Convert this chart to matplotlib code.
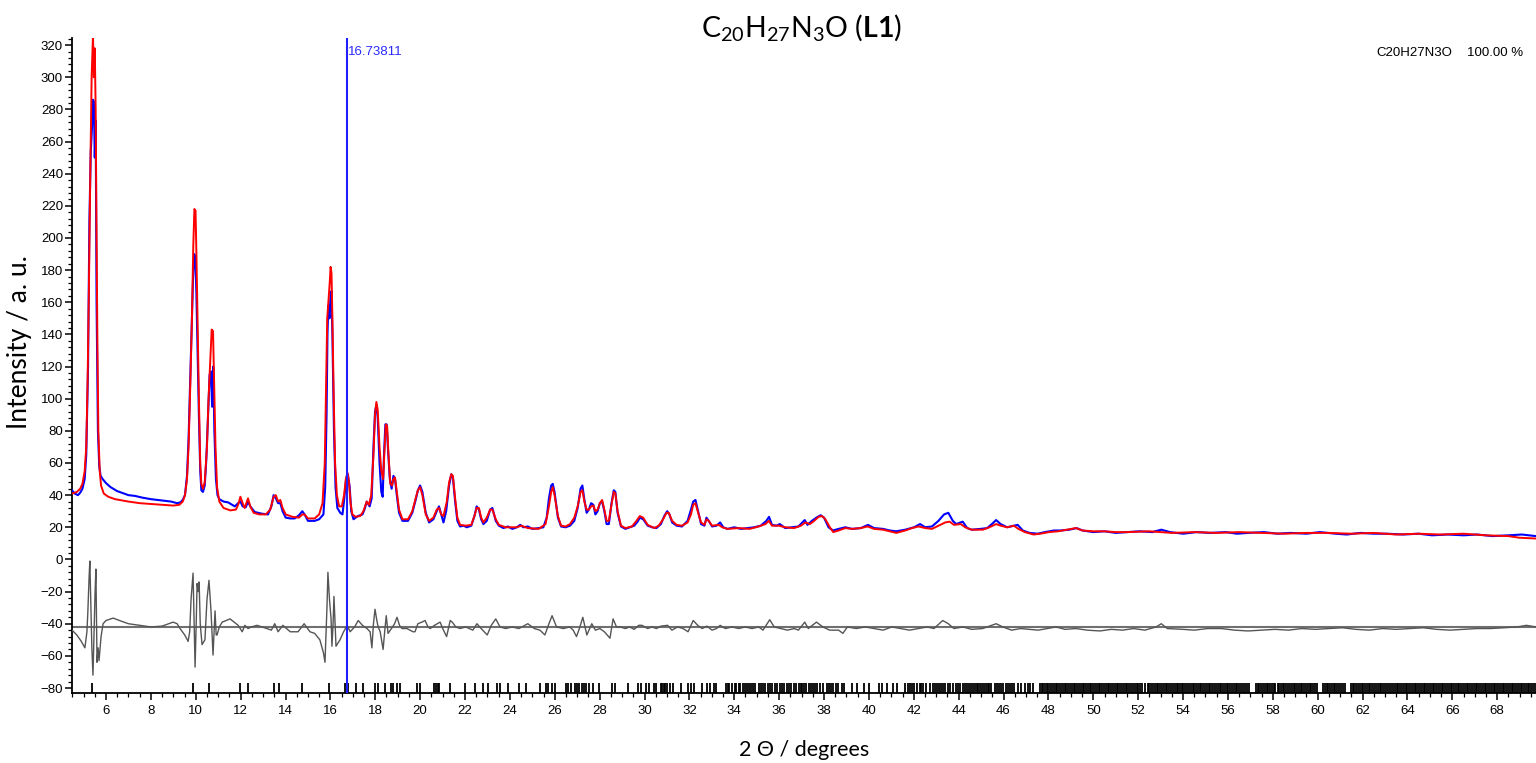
import numpy as np
import matplotlib
matplotlib.use("Agg")
import matplotlib.pyplot as plt
from matplotlib.ticker import MultipleLocator

plt.rcParams['font.family'] = ['Liberation Sans', 'DejaVu Sans']
plt.rcParams['mathtext.fontset'] = 'custom'
plt.rcParams['mathtext.rm'] = 'Lato'
plt.rcParams['mathtext.bf'] = 'Lato:bold'

# calculated pattern (red), 2theta / intensity
calc_pts = [
    (4.49, 41), (4.7, 42), (4.85, 44), (4.95, 47), (5.05, 55), (5.12, 70), (5.18, 110), (5.24, 170),
    (5.3, 240), (5.36, 300), (5.42, 326), (5.46, 300), (5.5, 318), (5.54, 280), (5.58, 200), (5.62, 130),
    (5.66, 80), (5.72, 55), (5.78, 46), (5.9, 41), (6.1, 39), (6.4, 37.5), (7.0, 36), (7.5, 35),
    (8.0, 34.5), (8.5, 34), (9.0, 33.5), (9.27, 34), (9.42, 36), (9.52, 40), (9.61, 50), (9.68, 70),
    (9.76, 110), (9.83, 150), (9.89, 195), (9.94, 218), (9.99, 217), (10.03, 190), (10.08, 150), (10.14, 100),
    (10.2, 60), (10.25, 47), (10.32, 44), (10.4, 48), (10.5, 70), (10.57, 100), (10.65, 125), (10.71, 143),
    (10.77, 142), (10.82, 110), (10.88, 70), (10.95, 45), (11.05, 36), (11.24, 32), (11.54, 30.5), (11.79, 31),
    (11.89, 34), (11.99, 39), (12.09, 35), (12.18, 32), (12.33, 38), (12.43, 33), (12.58, 29), (12.83, 28),
    (13.12, 28), (13.32, 31), (13.47, 39), (13.57, 40), (13.67, 36), (13.77, 37), (13.87, 32), (14.01, 28),
    (14.31, 26.5), (14.6, 26), (14.75, 28), (14.85, 28), (15.0, 25.5), (15.3, 25.5), (15.5, 28), (15.65, 35),
    (15.75, 60), (15.81, 110), (15.86, 150), (15.91, 160), (15.97, 172), (16.01, 182), (16.05, 178), (16.09, 150),
    (16.15, 100), (16.21, 60), (16.29, 40), (16.39, 33), (16.51, 33), (16.61, 40), (16.69, 50), (16.76, 54),
    (16.83, 48), (16.9, 35), (16.98, 28), (17.13, 26.5), (17.33, 27), (17.47, 30), (17.62, 36), (17.72, 34),
    (17.82, 40), (17.92, 65), (17.99, 90), (18.05, 98), (18.11, 93), (18.19, 70), (18.27, 55), (18.35, 50),
    (18.42, 70), (18.47, 84), (18.53, 83), (18.59, 65), (18.67, 47), (18.75, 46), (18.81, 50), (18.88, 51),
    (18.96, 42), (19.06, 31), (19.21, 25), (19.46, 25), (19.65, 30), (19.8, 38), (19.9, 43), (20.0, 45),
    (20.1, 40), (20.25, 28), (20.4, 24), (20.59, 26), (20.74, 31), (20.84, 32), (20.94, 28), (21.04, 27),
    (21.19, 36), (21.29, 48), (21.39, 53), (21.46, 52), (21.56, 38), (21.66, 26), (21.78, 21.5), (22.03, 21),
    (22.28, 21.5), (22.42, 27), (22.52, 32), (22.62, 32), (22.72, 26), (22.82, 23), (22.97, 26), (23.12, 31),
    (23.22, 31), (23.37, 25), (23.51, 21.5), (23.81, 20), (24.31, 20), (24.5, 21), (24.8, 19.5), (25.29, 19),
    (25.59, 22), (25.74, 33), (25.84, 42), (25.91, 45), (25.99, 40), (26.14, 27), (26.28, 21), (26.48, 20.5),
    (26.68, 22), (26.87, 26), (27.02, 33), (27.15, 42), (27.23, 43), (27.32, 36), (27.42, 31), (27.52, 31),
    (27.62, 33), (27.72, 33.5), (27.81, 30), (27.91, 31), (28.01, 35), (28.11, 37), (28.21, 31), (28.31, 24),
    (28.41, 24), (28.54, 35), (28.63, 42), (28.7, 41), (28.8, 30), (28.95, 21), (29.15, 19.5), (29.44, 20.5),
    (29.64, 24), (29.79, 27), (29.94, 26), (30.14, 21.5), (30.44, 19.5), (30.63, 21), (30.83, 25), (30.98, 29),
    (31.08, 29), (31.23, 24), (31.43, 21.5), (31.67, 21), (31.92, 23), (32.07, 28), (32.17, 34), (32.27, 35),
    (32.37, 30), (32.52, 23), (32.67, 21.5), (32.76, 25), (32.86, 24), (33.01, 21), (33.31, 21.5), (33.46, 20),
    (33.7, 19), (34.2, 19.5), (34.69, 19), (35.09, 20.5), (35.39, 22), (35.54, 24), (35.68, 21), (35.98, 21),
    (36.28, 20), (36.67, 19.5), (36.97, 21), (37.17, 23), (37.37, 22), (37.56, 24), (37.76, 26.5), (37.91, 27),
    (38.06, 25), (38.26, 20), (38.41, 17), (38.65, 18), (38.95, 19.5), (39.25, 19), (39.64, 19.5), (39.94, 20.5),
    (40.23, 19), (40.63, 18.5), (40.93, 17.5), (41.22, 16.5), (41.62, 18), (41.92, 19.5), (42.21, 20.5), (42.51, 19.5),
    (42.81, 19), (43.1, 21), (43.4, 23), (43.6, 23.5), (43.79, 21.5), (44.09, 22), (44.29, 20), (44.58, 18.5),
    (45.08, 18.5), (45.37, 20), (45.67, 22), (45.87, 21), (46.16, 20), (46.46, 21), (46.66, 19), (46.95, 17),
    (47.34, 15.5), (47.64, 16), (48.03, 17), (48.43, 17.5), (48.83, 18.5), (49.22, 19.5), (49.52, 18), (50.0, 17.5),
    (50.5, 17.5), (51.0, 17), (51.5, 17), (52.5, 17.5), (53.0, 17), (53.5, 16.5), (54.5, 17), (55.5, 16.5),
    (56.5, 17), (57.5, 16.5), (58.5, 16), (59.5, 16.5), (60.5, 16.5), (61.5, 16), (62.5, 16.5), (63.5, 15.5),
    (64.5, 16), (65.5, 15.5), (66.5, 16), (67.5, 15), (68.5, 14.5), (69.0, 13.5), (69.73, 13),
]

# observed pattern (blue)
obs_pts = [
    (4.49, 43), (4.6, 41), (4.75, 40), (4.85, 41.5), (4.95, 44), (5.05, 50), (5.12, 65), (5.2, 120),
    (5.26, 210), (5.32, 253), (5.38, 270), (5.42, 286), (5.46, 285), (5.5, 250), (5.54, 273), (5.58, 160),
    (5.64, 80), (5.7, 58), (5.76, 52), (5.85, 50), (6.0, 47.5), (6.2, 45), (6.5, 42.5), (6.8, 41),
    (7.0, 40), (7.3, 39.5), (7.6, 38.5), (8.0, 37.5), (8.3, 37), (8.6, 36.5), (8.9, 36), (9.17, 35),
    (9.32, 35.5), (9.42, 37), (9.52, 40), (9.61, 52), (9.68, 75), (9.76, 115), (9.83, 150), (9.88, 175),
    (9.93, 190), (9.98, 188), (10.03, 165), (10.08, 130), (10.14, 90), (10.2, 55), (10.25, 43), (10.32, 42),
    (10.4, 46), (10.47, 62), (10.55, 90), (10.62, 115), (10.68, 117), (10.73, 95), (10.78, 120), (10.83, 80),
    (10.9, 50), (10.97, 40), (11.05, 37.5), (11.24, 36), (11.44, 35.5), (11.74, 33), (11.89, 35), (11.99, 36),
    (12.09, 33), (12.23, 32.5), (12.33, 36), (12.43, 33), (12.63, 29.5), (12.93, 28.5), (13.22, 28), (13.37, 33),
    (13.47, 40), (13.57, 38), (13.67, 35), (13.77, 35), (13.87, 30), (14.01, 26), (14.21, 25.5), (14.41, 25.5),
    (14.6, 27.5), (14.75, 30), (14.85, 28), (15.0, 24), (15.3, 24), (15.5, 25), (15.69, 28), (15.77, 45),
    (15.83, 90), (15.87, 140), (15.91, 158), (15.96, 150), (16.01, 165), (16.05, 167), (16.09, 140), (16.16, 80),
    (16.23, 45), (16.31, 32), (16.44, 29), (16.54, 28), (16.62, 38), (16.7, 50), (16.78, 53), (16.86, 45),
    (16.93, 30), (17.03, 25), (17.23, 27), (17.43, 28), (17.52, 31), (17.62, 36), (17.75, 33), (17.84, 38),
    (17.92, 70), (17.99, 92), (18.05, 96), (18.11, 88), (18.19, 60), (18.27, 42), (18.33, 39), (18.39, 65),
    (18.45, 84), (18.51, 84), (18.57, 68), (18.65, 50), (18.73, 44), (18.81, 52), (18.88, 50), (18.96, 40),
    (19.06, 29), (19.21, 24), (19.46, 24), (19.65, 29), (19.8, 37), (19.9, 43), (20.0, 46), (20.1, 42),
    (20.25, 29), (20.4, 23), (20.59, 25), (20.74, 30), (20.84, 33), (20.94, 28), (21.04, 23), (21.16, 30),
    (21.29, 46), (21.39, 53), (21.46, 51), (21.56, 36), (21.66, 24), (21.78, 20.5), (21.93, 21), (22.08, 20),
    (22.28, 21), (22.42, 27), (22.52, 33), (22.62, 31), (22.72, 25), (22.82, 22), (22.97, 24), (23.12, 31),
    (23.22, 32), (23.37, 24), (23.51, 21), (23.71, 19.5), (23.91, 20.5), (24.11, 19), (24.31, 20), (24.46, 21.5),
    (24.6, 20), (24.8, 20.5), (25.0, 19), (25.29, 19.5), (25.49, 20), (25.64, 26), (25.74, 38), (25.84, 46),
    (25.91, 47), (25.99, 42), (26.14, 26), (26.28, 20.5), (26.48, 20), (26.68, 21), (26.87, 24), (27.02, 32),
    (27.15, 44), (27.23, 46), (27.32, 37), (27.42, 29), (27.52, 31), (27.62, 35), (27.72, 34), (27.81, 28),
    (27.91, 30), (28.01, 35), (28.11, 36), (28.21, 30), (28.31, 22), (28.41, 22), (28.54, 36), (28.63, 43),
    (28.7, 42), (28.8, 29), (28.95, 20.5), (29.15, 19), (29.35, 20), (29.54, 21), (29.69, 23.5), (29.79, 26),
    (29.94, 25), (30.14, 21), (30.34, 20), (30.53, 19.5), (30.73, 22), (30.88, 27), (31.01, 30), (31.11, 28),
    (31.23, 23), (31.43, 21), (31.67, 20.5), (31.92, 24), (32.07, 31), (32.17, 36), (32.27, 37), (32.37, 31),
    (32.52, 22), (32.67, 21), (32.76, 26), (32.86, 24), (33.01, 20.5), (33.21, 21), (33.37, 23), (33.51, 20),
    (33.7, 19), (34.0, 20), (34.3, 19), (34.59, 19.5), (34.89, 20), (35.18, 21), (35.43, 24), (35.55, 26.5),
    (35.68, 21.5), (35.88, 21), (36.03, 22), (36.27, 19.5), (36.57, 20), (36.86, 20.5), (37.14, 24.5), (37.26, 21.5),
    (37.46, 24), (37.66, 26), (37.85, 27.5), (38.0, 26), (38.2, 20), (38.4, 18), (38.65, 19), (38.95, 20),
    (39.25, 19), (39.64, 19.5), (39.96, 21.5), (40.23, 19.5), (40.63, 19), (40.93, 18), (41.22, 17.5), (41.62, 18.5),
    (42.01, 20), (42.28, 22), (42.51, 20), (42.81, 20.5), (43.1, 24), (43.35, 28), (43.54, 29), (43.74, 24),
    (43.89, 22), (44.18, 23.5), (44.38, 19.5), (44.58, 18.5), (44.98, 19), (45.27, 19.5), (45.52, 22.5), (45.67, 24.5),
    (45.87, 22), (46.16, 20), (46.46, 21), (46.63, 21.5), (46.86, 18), (47.16, 16.5), (47.52, 16), (47.85, 17),
    (48.24, 18), (48.53, 18), (48.93, 18.5), (49.26, 19.5), (49.52, 18), (50.0, 17), (50.5, 17.5), (51.0, 16.5),
    (51.5, 17), (52.05, 17.5), (52.63, 17), (53.03, 18.5), (53.42, 17), (54.0, 16), (54.6, 17), (55.2, 16.5),
    (55.9, 17), (56.4, 16), (56.9, 16.5), (57.6, 17), (58.2, 16), (58.8, 16.5), (59.5, 16), (60.1, 17),
    (60.8, 16), (61.3, 15.5), (61.9, 16.5), (62.5, 16), (63.1, 16), (63.8, 15.5), (64.5, 16), (65.1, 15),
    (65.8, 15.5), (66.5, 15), (67.1, 15.5), (67.8, 14.5), (68.5, 15), (69.1, 15.5), (69.73, 14.5),
]

# difference curve (grey), already offset
diff_pts = [
    (4.49, -44), (4.7, -47), (4.9, -51), (5.06, -55), (5.15, -45), (5.19, -33), (5.25, -10), (5.28, -1),
    (5.33, -30), (5.37, -55), (5.42, -72), (5.47, -45), (5.51, -22), (5.55, -6), (5.6, -64), (5.65, -55),
    (5.69, -63), (5.78, -48), (5.87, -40), (6.0, -38), (6.32, -36.5), (6.6, -38), (7.0, -40), (7.5, -41),
    (8.0, -42), (8.5, -41.5), (8.99, -39), (9.17, -40), (9.3, -43), (9.51, -47), (9.66, -51), (9.73, -45),
    (9.79, -25), (9.88, -8.5), (9.93, -40), (9.97, -67), (10.02, -40), (10.06, -15), (10.11, -20), (10.15, -14),
    (10.2, -40), (10.28, -53), (10.41, -50), (10.5, -25), (10.59, -13), (10.68, -32), (10.77, -59.5), (10.82, -45),
    (10.86, -32), (10.91, -47), (10.95, -47), (11.05, -42), (11.18, -39), (11.53, -37), (11.89, -41), (12.07, -45),
    (12.19, -41), (12.33, -43), (12.48, -42), (12.73, -41), (13.17, -43), (13.37, -44), (13.52, -40), (13.67, -45),
    (13.88, -41), (14.21, -45), (14.56, -45), (14.83, -40), (15.09, -45), (15.3, -46), (15.53, -50), (15.69, -58),
    (15.76, -64), (15.81, -45), (15.85, -29), (15.89, -8), (15.96, -25), (16.03, -37), (16.07, -54), (16.12, -40),
    (16.16, -23), (16.21, -40), (16.25, -54), (16.34, -52), (16.43, -50), (16.59, -45), (16.75, -41), (16.88, -45),
    (17.08, -42), (17.24, -38), (17.43, -41), (17.63, -43), (17.77, -45), (17.85, -55), (17.92, -40), (17.99, -31),
    (18.07, -38), (18.13, -42), (18.22, -45), (18.35, -56), (18.42, -45), (18.49, -35), (18.57, -46), (18.67, -44),
    (18.77, -42), (18.86, -40), (18.97, -36), (19.08, -41), (19.19, -43), (19.41, -43), (19.68, -45), (19.77, -45),
    (19.9, -40), (20.08, -39), (20.22, -38), (20.35, -42), (20.45, -43), (20.64, -41), (20.89, -39), (21.04, -44),
    (21.18, -48), (21.34, -38), (21.43, -39), (21.59, -42), (21.78, -43), (22.03, -42), (22.35, -44), (22.53, -40),
    (22.72, -43), (22.99, -47), (23.17, -41), (23.37, -37), (23.56, -42), (23.81, -43), (24.1, -42), (24.4, -43),
    (24.8, -40), (25.09, -43), (25.34, -44), (25.56, -47), (25.74, -40), (25.88, -35), (26.08, -42), (26.38, -43),
    (26.67, -42), (26.82, -44), (26.97, -48), (27.12, -42), (27.25, -36), (27.43, -47), (27.65, -40), (27.81, -44),
    (28.01, -43), (28.21, -45), (28.46, -49), (28.6, -37), (28.75, -42), (28.91, -42), (29.15, -43), (29.34, -42),
    (29.54, -43.5), (29.74, -41), (29.89, -41), (30.14, -43), (30.33, -42), (30.53, -43), (30.73, -41.5), (31.03, -41),
    (31.22, -44), (31.47, -42), (31.72, -43), (31.94, -45), (32.17, -38), (32.37, -41), (32.57, -43), (32.78, -41.5),
    (33.01, -44), (33.21, -43), (33.37, -41), (33.6, -43), (33.9, -42), (34.2, -43), (34.49, -42), (34.79, -43),
    (35.09, -42), (35.28, -44), (35.58, -37.5), (35.78, -42), (36.07, -43), (36.37, -44), (36.67, -43), (36.86, -44),
    (37.14, -39), (37.3, -43), (37.66, -39), (37.95, -42), (38.25, -44), (38.65, -44), (38.84, -46), (39.04, -42),
    (39.44, -43), (39.83, -42), (40.23, -43), (40.63, -44), (41.02, -42), (41.42, -43), (41.81, -44), (42.21, -43),
    (42.6, -42), (42.9, -43), (43.29, -38), (43.54, -40), (43.79, -43), (44.19, -42), (44.58, -43.5), (45.07, -43),
    (45.67, -40), (45.97, -42), (46.36, -44), (46.76, -43), (47.16, -43.5), (47.55, -44), (47.95, -43), (48.34, -42),
    (48.74, -43.5), (49.23, -43), (49.72, -44), (50.3, -44.5), (50.8, -43.5), (51.3, -44), (51.8, -43), (52.3, -44),
    (52.8, -42), (53.03, -40), (53.3, -43), (54.0, -43.5), (54.5, -44), (55.1, -43), (55.7, -43), (56.3, -44),
    (56.9, -44.5), (57.5, -44), (58.1, -43.5), (58.7, -44), (59.3, -43), (59.9, -43.5), (60.5, -43), (61.1, -42.5),
    (61.7, -43.5), (62.3, -44), (62.9, -43), (63.5, -43.5), (64.1, -43), (64.7, -42.5), (65.3, -43.5), (65.9, -44),
    (66.5, -43.5), (67.1, -43), (67.7, -43), (68.3, -42.5), (68.9, -42), (69.3, -41), (69.73, -42),
]
diff_zero = -42

# Bragg reflection positions
refl_pos = [
    5.36, 9.89, 10.6, 11.98, 12.34, 13.49, 13.73, 14.73, 15.95, 16.65, 16.8, 17.14, 17.46, 17.99, 18.14,
    18.44, 18.7, 18.78, 18.98, 19.1, 19.88, 20.0, 20.63, 20.7, 20.8, 20.85, 21.31, 22.0, 22.45, 22.81,
    23.04, 23.44, 23.56, 23.93, 24.42, 24.74, 25.33, 25.63, 25.71, 25.86, 26.0, 26.51, 26.59, 26.74, 26.88,
    26.98, 27.1, 27.2, 27.3, 27.39, 27.54, 27.69, 27.99, 28.57, 28.7, 29.25, 29.7, 29.85, 30.07, 30.22,
    30.44, 30.52, 30.73, 30.8, 30.85, 30.92, 31.0, 31.14, 31.29, 31.61, 31.96, 32.06, 32.2, 32.58, 32.8,
    32.94, 33.09, 33.17,
    33.61, 33.7, 33.77, 33.9, 34.02, 34.09, 34.19, 34.26, 34.38, 34.48, 34.55, 34.65, 34.73, 34.82, 34.93,
    35.08, 35.21, 35.29, 35.36, 35.51, 35.61, 35.68, 35.8, 35.9, 36.04, 36.14, 36.21, 36.33, 36.43, 36.54,
    36.67, 36.75, 36.87, 36.97, 37.04, 37.11, 37.21, 37.34, 37.41, 37.5, 37.6, 37.7, 37.8, 37.94,
    38.13, 38.21, 38.31, 38.42, 38.52, 38.62, 38.79, 38.91,
    39.24, 39.47, 39.76, 39.99, 40.43, 40.58, 40.79, 41.09, 41.24,
    41.6, 41.75, 41.85, 41.94, 42.02, 42.14, 42.26, 42.34, 42.43, 42.55,
    42.73, 42.85, 42.93, 43.02, 43.14, 43.22, 43.31, 43.41, 43.53, 43.63, 43.76, 43.86, 43.95, 44.06,
    44.19, 44.29, 44.38, 44.46, 44.53, 44.63, 44.73, 44.8, 44.88, 44.97, 45.05, 45.12, 45.22, 45.29, 45.37, 45.46,
    45.62, 45.71, 45.8, 45.9, 45.97, 46.09, 46.19, 46.29, 46.38, 46.48, 46.63, 46.78, 46.97, 47.1, 47.2, 47.31,
    47.62, 47.7, 47.77, 47.86, 47.93, 48.0, 48.09, 48.16, 48.24, 48.33, 48.4, 48.48, 48.57, 48.64, 48.72, 48.8, 48.88, 48.97,
    49.04, 49.12, 49.2, 49.29, 49.36, 49.44, 49.53, 49.6, 49.68, 49.77, 49.84, 49.92,
    50.0, 50.08, 50.17, 50.24, 50.32, 50.41, 50.48, 50.56, 50.65, 50.72, 50.8, 50.89, 50.96,
    51.04, 51.12, 51.21, 51.28, 51.36, 51.45, 51.52, 51.6, 51.69, 51.76, 51.84, 51.93, 52.0, 52.08, 52.16,
    52.3, 52.42, 52.5, 52.58, 52.66, 52.74, 52.83, 52.9, 52.98,
    53.06, 53.14, 53.23, 53.3, 53.38, 53.47, 53.54, 53.62, 53.71, 53.78, 53.86, 53.95,
    54.02, 54.1, 54.19, 54.26, 54.34, 54.43, 54.5, 54.58, 54.67, 54.74, 54.82, 54.91, 54.98,
    55.06, 55.15, 55.22, 55.3, 55.39, 55.46, 55.54, 55.63, 55.7, 55.78, 55.87, 55.94,
    56.02, 56.11, 56.18, 56.26, 56.35, 56.42, 56.5, 56.59, 56.66, 56.74, 56.83, 56.92,
    57.25, 57.32, 57.4, 57.49, 57.56, 57.64, 57.73, 57.8, 57.88, 57.97,
    58.04, 58.12, 58.21, 58.28, 58.36, 58.45, 58.52, 58.6, 58.69, 58.76, 58.84, 58.93,
    59.0, 59.08, 59.17, 59.24, 59.32, 59.41, 59.48, 59.56, 59.65, 59.72, 59.8, 59.89, 59.97,
    60.24, 60.31, 60.4, 60.47, 60.55, 60.64, 60.71, 60.79, 60.88, 60.95, 61.03, 61.12, 61.2,
    61.48, 61.56, 61.63, 61.72, 61.8, 61.87, 61.96,
    62.04, 62.11, 62.2, 62.28, 62.35, 62.44, 62.52, 62.59, 62.68, 62.76, 62.83, 62.92, 63.0, 63.08,
    63.2, 63.28, 63.36, 63.44, 63.52, 63.6, 63.68, 63.76, 63.84, 63.92,
    64.0, 64.08, 64.16, 64.24, 64.32, 64.4, 64.48, 64.56, 64.64, 64.72, 64.8, 64.88, 64.96,
    65.04, 65.12, 65.2, 65.28, 65.36, 65.44, 65.52, 65.6, 65.68, 65.76, 65.84, 65.92,
    66.0, 66.08, 66.16, 66.24, 66.32, 66.4, 66.48, 66.56, 66.64, 66.72, 66.8, 66.88, 66.96,
    67.04, 67.12, 67.2, 67.28, 67.36, 67.44, 67.52, 67.6, 67.68, 67.76, 67.84, 67.92,
    68.0, 68.08, 68.16, 68.24, 68.32, 68.4, 68.48, 68.56, 68.64, 68.72, 68.8, 68.88, 68.96,
    69.04, 69.12, 69.2, 69.28, 69.36, 69.44, 69.52, 69.6, 69.68,
]

cursor_pos = 16.73811
phase_name = "C20H27N3O"
phase_frac = "100.00 %"

XMIN, XMAX = 4.485, 69.73
YMIN, YMAX = -83.1, 324.4

fig = plt.figure(figsize=(15.36, 7.63), dpi=100)
ax = fig.add_axes([72 / 1536, 70 / 763, 1464 / 1536, 655 / 763])

x_obs, y_obs = np.array(obs_pts).T
x_calc, y_calc = np.array(calc_pts).T
x_diff, y_diff = np.array(diff_pts).T

ax.plot(x_obs, y_obs, color='#0000ff', lw=1.5, zorder=3)
ax.plot(x_calc, y_calc, color='#ff0000', lw=1.4, zorder=4)
ax.axhline(diff_zero, color='#707070', lw=1.5, zorder=2)
ax.plot(x_diff, y_diff, color='#555555', lw=1.0, zorder=3)
ax.vlines(refl_pos, YMIN, -77, color='black', lw=1.3, zorder=3)

ax.axvline(cursor_pos, color='#1f1fff', lw=1.5, zorder=5)
ax.text(cursor_pos + 0.05, 316, f"{cursor_pos:.5f}", color='#2a2aff', fontsize=9.5,
        va='center', ha='left')

ax.text(0.891, 0.977, phase_name, transform=ax.transAxes, fontsize=9.5, va='center', ha='left')
ax.text(0.953, 0.977, phase_frac, transform=ax.transAxes, fontsize=9.5, va='center', ha='left')

ax.set_xlim(XMIN, XMAX)
ax.set_ylim(YMIN, YMAX)
ax.xaxis.set_major_locator(MultipleLocator(2))
ax.xaxis.set_minor_locator(MultipleLocator(0.5))
ax.yaxis.set_major_locator(MultipleLocator(20))
ax.yaxis.set_minor_locator(MultipleLocator(4))
ax.tick_params(which='major', length=5, width=1.1, labelsize=9.5, direction='out')
ax.tick_params(which='minor', length=3, width=0.9, direction='out')
ax.tick_params(axis='y', pad=1.5)
ax.tick_params(axis='x', pad=4)

for side in ['top', 'right']:
    ax.spines[side].set_visible(False)
for side in ['left', 'bottom']:
    ax.spines[side].set_linewidth(1.3)

ax.set_xlabel("2 \u0398 / degrees", fontsize=15.5, family='Lato', labelpad=16)
ax.set_ylabel("Intensity / a. u.", fontsize=19, family='Lato')
ax.yaxis.set_label_coords(-0.027, 0.536)

fig.text(0.522, 0.963, r"C$_{\mathrm{20}}$H$_{\mathrm{27}}$N$_{\mathrm{3}}$O ($\mathbf{L1}$)",
         fontsize=20.5, family='Lato', ha='center', va='center')

fig.savefig("out.png", dpi=100)
